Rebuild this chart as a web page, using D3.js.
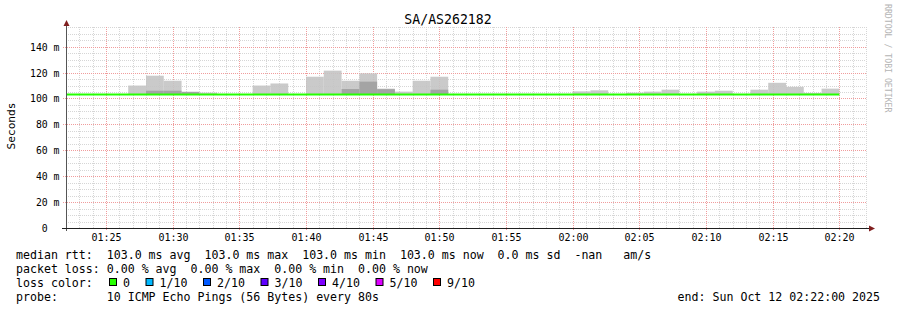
<!DOCTYPE html>
<html>
<head>
<meta charset="utf-8">
<script src="https://cdn.jsdelivr.net/npm/d3@7"></script>
<style>
  body { margin: 0; background: #fff; }
  text { font-family: "DejaVu Sans Mono", monospace; white-space: pre; }
</style>
</head>
<body>
<svg id="chart" width="897" height="310"></svg>
<script>
// ---- data ----
const title = 'SA/AS262182';
const yLabel = 'Seconds';
const viewStart = '2025-10-12T01:22:00Z';
const viewEnd = '2025-10-12T02:22:00Z';
const firstStep = '2025-10-12T01:21:20Z';
const stepSeconds = 80;

// median rtt per 80s step (ms)
const medianRtt = [103, 103, 103, 103, 103, 103, 103, 103, 103, 103, 103,
  103, 103, 103, 103, 103, 103, 103, 103, 103, 103, 103,
  103, 103, 103, 103, 103, 103, 103, 103, 103, 103, 103,
  103, 103, 103, 103, 103, 103, 103, 103, 103, 103, 103];
// top of the outer (light) smoke per step (ms)
const smokeOuter = [null, null, null, null, 110, 117.6, 113.7, 105.3, 104.5, null, null,
  110, 111.6, null, 116.8, 121.5, 113.7, 119.4, 107.6, 105.3, 113.7, 116.8,
  null, null, null, null, null, null, null, 105.5, 106.3, null, 104.5,
  105.3, 106.8, null, 105.3, 106, null, 106.8, 112.1, 109, 104.3, 107.6];
// top of the inner (dark) smoke per step (ms)
const smokeInner = [null, null, null, null, null, 106, 106, 105, null, null, null,
  null, null, null, null, null, 107.3, 113, 107.2, null, null, 106.8,
  null, null, null, null, null, null, null, null, null, null, null,
  null, null, null, null, null, null, null, null, null, null, null];

const yTicks = [0, 20, 40, 60, 80, 100, 120, 140];
const yTickLabels = ['0  ', '20 m', '40 m', '60 m', '80 m', '100 m', '120 m', '140 m'];

const legendLines = [
  'median rtt:  103.0 ms avg  103.0 ms max  103.0 ms min  103.0 ms now  0.0 ms sd  -nan   am/s',
  'packet loss: 0.00 % avg  0.00 % max  0.00 % min  0.00 % now',
  'loss color:',
  'probe:       10 ICMP Echo Pings (56 Bytes) every 80s'
];
const lossLabels = ['0', '1/10', '2/10', '3/10', '4/10', '5/10', '9/10'];
const lossColors = ['#26ff00', '#00b8ff', '#0059ff', '#5e00ff', '#7e00ff', '#dd00ff', '#ff0000'];
const endLabel = 'end: Sun Oct 12 02:22:00 2025';
const watermark = 'RRDTOOL / TOBI OETIKER';

// ---- chart ----
const svg = d3.select('#chart');
const pLeft = 66, pRight = 866, pTop = 27, pBottom = 228;
const minorColor = '#d6d6d6';
const majorColor = '#f09c9c';

const x = d3.scaleUtc()
  .domain([new Date(viewStart), new Date(viewEnd)])
  .range([pLeft, pRight]);
const y = d3.scaleLinear()
  .domain([0, 155.2])
  .range([pBottom, pTop]);

const t0 = new Date(firstStep).getTime();
const steps = medianRtt.map(function(m, i) {
  return {
    start: new Date(t0 + i * stepSeconds * 1000),
    end: new Date(t0 + (i + 1) * stepSeconds * 1000),
    median: m,
    outer: smokeOuter[i],
    inner: smokeInner[i]
  };
});

svg.append('defs').append('clipPath').attr('id', 'plot')
  .append('rect').attr('x', pLeft).attr('y', pTop)
  .attr('width', pRight - pLeft).attr('height', pBottom - pTop);

// grid (under the data)
const grid = svg.append('g').attr('shape-rendering', 'crispEdges');
const majorMin = x.ticks(d3.utcMinute.every(5)).map(d => +d);
x.ticks(d3.utcMinute.every(1))
  .filter(d => majorMin.indexOf(+d) < 0 && x(d) > pLeft)
  .forEach(function(d) {
    const px = Math.round(x(d)) + 0.5;
    grid.append('line').attr('x1', px).attr('x2', px).attr('y1', pTop).attr('y2', pBottom)
      .attr('stroke', minorColor).attr('stroke-dasharray', '1,1');
  });
d3.range(5, 156, 5).filter(v => v % 20 != 0).forEach(function(v) {
  const py = Math.round(y(v)) + 0.5;
  grid.append('line').attr('x1', pLeft).attr('x2', pRight).attr('y1', py).attr('y2', py)
    .attr('stroke', minorColor).attr('stroke-dasharray', '1,1');
});
x.ticks(d3.utcMinute.every(5)).forEach(function(d) {
  const px = Math.round(x(d)) + 0.5;
  grid.append('line').attr('x1', px).attr('x2', px).attr('y1', pTop).attr('y2', pBottom + 3)
    .attr('stroke', majorColor).attr('stroke-dasharray', '1,1');
  svg.append('text').attr('x', px).attr('y', 241)
    .attr('text-anchor', 'middle').attr('font-size', 10).attr('fill', '#000')
    .text(d3.utcFormat('%H:%M')(d));
});
yTicks.forEach(function(v, i) {
  const py = Math.round(y(v)) + 0.5;
  if (v > 0) {
    grid.append('line').attr('x1', pLeft - 3).attr('x2', pRight).attr('y1', py).attr('y2', py)
      .attr('stroke', majorColor).attr('stroke-dasharray', '1,1');
  }
  svg.append('text').attr('x', 59.5).attr('y', py + 3.5)
    .attr('text-anchor', 'end').attr('font-size', 9.8).attr('fill', '#000')
    .text(yTickLabels[i]);
});

const plot = svg.append('g').attr('clip-path', 'url(#plot)');

// smoke, slightly see-through so the grid shows like in rrdtool
plot.selectAll('rect.outer')
  .data(steps.filter(d => d.outer != null))
  .enter().append('rect')
  .attr('class', 'outer')
  .attr('x', d => x(d.start))
  .attr('width', d => x(d.end) - x(d.start))
  .attr('y', d => y(d.outer))
  .attr('height', d => y(d.median) - y(d.outer))
  .attr('fill', '#c4c4c4').attr('fill-opacity', 0.9);

plot.selectAll('rect.inner')
  .data(steps.filter(d => d.inner != null))
  .enter().append('rect')
  .attr('class', 'inner')
  .attr('x', d => x(d.start))
  .attr('width', d => x(d.end) - x(d.start))
  .attr('y', d => y(d.inner))
  .attr('height', d => y(d.median) - y(d.inner))
  .attr('fill', '#a4a4a4');

// median line
const medLine = d3.line()
  .x(d => x(d.t)).y(d => y(d.v))
  .curve(d3.curveStepAfter);
const medPts = steps.map(d => ({ t: d.start, v: d.median }));
medPts.push({ t: steps[steps.length - 1].end, v: steps[steps.length - 1].median });
plot.append('path').datum(medPts)
  .attr('d', medLine)
  .attr('fill', 'none')
  .attr('stroke', lossColors[0])
  .attr('stroke-width', 2);

// axes
svg.append('line').attr('x1', pLeft + 0.5).attr('x2', pLeft + 0.5).attr('y1', 24).attr('y2', pBottom + 3)
  .attr('stroke', '#555');
svg.append('line').attr('x1', pLeft - 4).attr('x2', 870).attr('y1', pBottom + 0.5).attr('y2', pBottom + 0.5)
  .attr('stroke', '#1f1f1f');
svg.append('path').attr('d', `M${pLeft - 2.5},26 L${pLeft + 3.5},26 L${pLeft + 0.5},20 Z`).attr('fill', '#801f1f');
svg.append('path').attr('d', `M869,${pBottom - 2.5} L869,${pBottom + 3.5} L875,${pBottom + 0.5} Z`).attr('fill', '#801f1f');

// title and labels
svg.append('text').attr('x', 448).attr('y', 24).attr('text-anchor', 'middle')
  .attr('font-size', 13.2).attr('fill', '#000').text(title);
svg.append('text').attr('transform', 'translate(15,126) rotate(-90)')
  .attr('text-anchor', 'middle').attr('font-size', 11.2).attr('fill', '#000').text(yLabel);
svg.append('text').attr('transform', 'translate(885,4) rotate(90)')
  .attr('text-anchor', 'start').attr('font-size', 8.2).attr('fill', '#b4b4b4').text(watermark);

// legend
const baselines = [259, 273, 287, 300.5];
legendLines.forEach(function(s, i) {
  svg.append('text').attr('x', 16).attr('y', baselines[i])
    .attr('font-size', 11.6).attr('fill', '#000').text(s);
});
let cursor = 109;
lossLabels.forEach(function(lab, i) {
  svg.append('rect').attr('x', cursor + 0.5).attr('y', 278.5).attr('width', 7).attr('height', 7)
    .attr('fill', lossColors[i]).attr('stroke', '#000').attr('stroke-width', 1);
  const tx = cursor + 14;
  svg.append('text').attr('x', tx).attr('y', baselines[2])
    .attr('font-size', 11.6).attr('fill', '#000').text(lab);
  cursor = tx + lab.length * 7 + 15.5;
});
svg.append('text').attr('x', 880).attr('y', baselines[3]).attr('text-anchor', 'end')
  .attr('font-size', 11.6).attr('fill', '#000').text(endLabel);
</script>
</body>
</html>
